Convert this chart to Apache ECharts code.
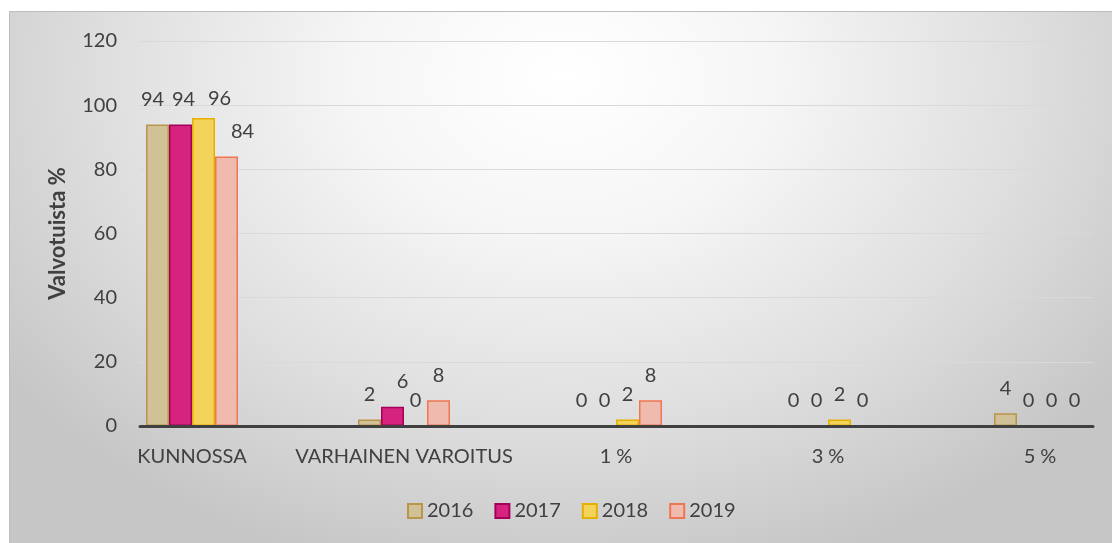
<!DOCTYPE html>
<html>
<head>
<meta charset="utf-8">
<script src="https://cdn.jsdelivr.net/npm/echarts@6/dist/echarts.min.js"></script>
<style>
html,body{margin:0;padding:0;width:1112px;height:543px;overflow:hidden;background:#fff;}
#bg{position:absolute;left:9px;top:11px;width:1110px;height:540px;border-top:1px solid #bdbdbd;border-left:1px solid #bdbdbd;
background:radial-gradient(ellipse 62% 95% at 50% 12%, #ffffff 0%, #f6f6f6 30%, #dedede 68%, #c6c6c6 100%);}
#chart{position:absolute;left:0;top:0;width:1112px;height:543px;}
</style>
</head>
<body>
<div id="bg"></div>
<div id="chart"></div>
<script>
const categories = ['KUNNOSSA', 'VARHAINEN VAROITUS', '1 %', '3 %', '5 %'];
const years = ['2016', '2017', '2018', '2019'];
const values2016 = [94, 2, 0, 0, 4];
const values2017 = [94, 6, 0, 0, 0];
const values2018 = [96, 0, 2, 2, 0];
const values2019 = [84, 8, 8, 0, 0];
const yTicks = [0, 20, 40, 60, 80, 100, 120];

const fills = ['#D0C196', '#D6237F', '#F4D35A', '#EFBBAE'];
const borders = ['#B8954A', '#A3005A', '#E5B000', '#EE7650'];
const seriesValues = [values2016, values2017, values2018, values2019];
// label nudges (style only): series index -> category index -> [dx, dy]
const labelNudges = {0: {0: [-5, 0]}, 1: {0: [3, 0], 1: [10, 0]}, 2: {0: [16, 6]}, 3: {0: [16, 0]}};
const FONT = 'Lato, "Open Sans", sans-serif';
const TXT = '#404040';

const chart = echarts.init(document.getElementById('chart'), null, {renderer: 'canvas'});
const option = {
  backgroundColor: 'transparent',
  animation: false,
  textStyle: {fontFamily: FONT},
  grid: [
    {left: 86, width: 1060, top: 41, bottom: 117, containLabel: false, outerBoundsMode: 'none'},
    {left: 140, right: 19, top: 41, bottom: 117, containLabel: false, outerBoundsMode: 'none'}
  ],
  xAxis: [
    {
      gridIndex: 0, type: 'category', data: categories,
      axisLine: {show: false}, axisTick: {show: false},
      axisLabel: {color: TXT, fontSize: 20, fontFamily: FONT, margin: 21, interval: 0}
    },
    {
      gridIndex: 1, type: 'value', min: 0, max: 1, z: 10,
      axisLine: {show: true, lineStyle: {color: '#404040', width: 3}},
      axisTick: {show: false}, axisLabel: {show: false}, splitLine: {show: false}
    }
  ],
  yAxis: [
    {
      gridIndex: 0, type: 'value', min: yTicks[0], max: yTicks[yTicks.length - 1], interval: 20,
      axisLine: {show: false}, axisTick: {show: false}, axisLabel: {show: false}, splitLine: {show: false}
    },
    {
      gridIndex: 1, type: 'value', min: yTicks[0], max: yTicks[yTicks.length - 1], interval: 20,
      name: 'Valvotuista %', nameLocation: 'middle', nameGap: 71,
      nameTextStyle: {color: TXT, fontSize: 22, fontWeight: 'bold', fontFamily: FONT},
      axisLine: {show: false}, axisTick: {show: false},
      axisLabel: {color: TXT, fontSize: 20, fontFamily: FONT, margin: 23},
      splitLine: {show: true, lineStyle: {color: '#d9d9d9', width: 1}}
    }
  ],
  legend: {
    data: years,
    left: 402, top: 496,
    itemWidth: 14, itemHeight: 14, itemGap: 21,
    icon: 'rect',
    textStyle: {color: TXT, fontSize: 20, fontFamily: FONT}
  },
  series: years.map((y, i) => ({
    name: y,
    type: 'bar',
    xAxisIndex: 0, yAxisIndex: 0,
    data: seriesValues[i].map((v, j) => {
      const n = (labelNudges[i] || {})[j];
      return n ? {value: v, label: {offset: n}} : v;
    }),
    barWidth: 23,
    barGap: '0%',
    itemStyle: {color: fills[i], borderColor: borders[i], borderWidth: 1.5},
    label: {show: true, position: 'top', distance: 15, color: TXT, fontSize: 20, fontFamily: FONT}
  }))
};
chart.setOption(option);
</script>
</body>
</html>
